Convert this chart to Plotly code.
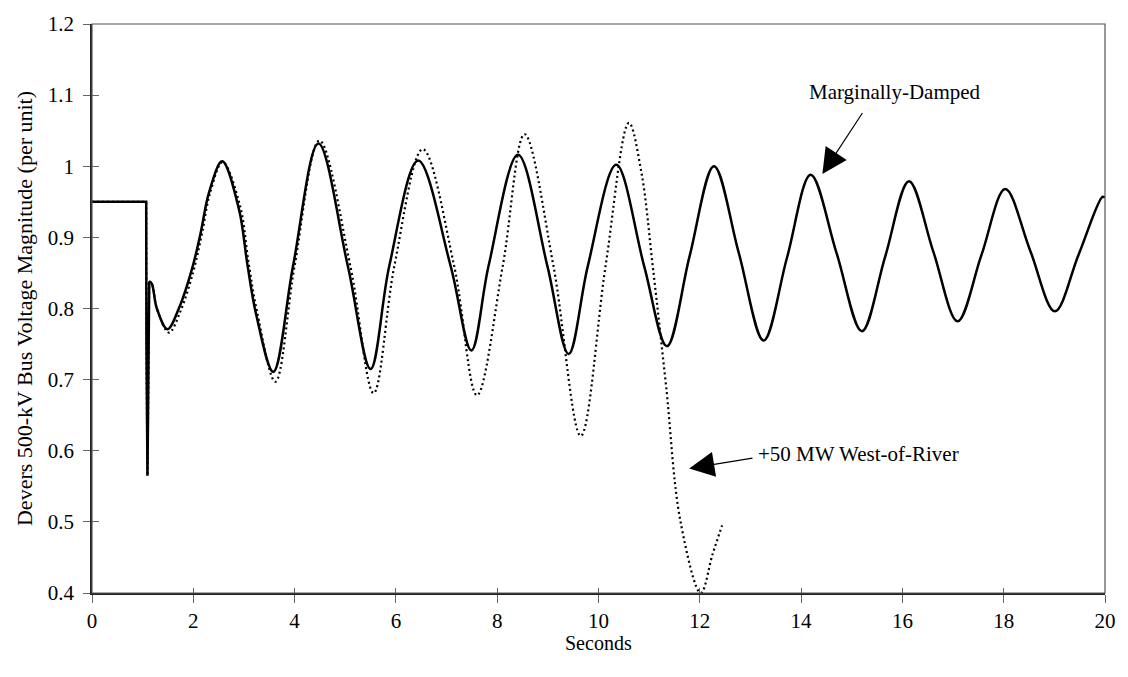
import plotly.graph_objects as go

# Time axis ticks (seconds) and voltage ticks (per unit)
x_ticks = [0, 2, 4, 6, 8, 10, 12, 14, 16, 18, 20]
y_ticks = [0.4, 0.5, 0.6, 0.7, 0.8, 0.9, 1.0, 1.1, 1.2]
y_tick_text = ["0.4", "0.5", "0.6", "0.7", "0.8", "0.9", "1", "1.1", "1.2"]

# Marginally-damped case: Devers 500-kV bus voltage (pu) vs time (s)
base_t = [0.0, 1.07, 1.075, 1.085, 1.095, 1.105, 1.115, 1.13,
          1.18, 1.28, 1.49, 1.72, 1.98, 2.15, 2.31, 2.57, 2.90, 3.07, 3.24,
          3.58, 3.97, 4.47, 5.05, 5.50, 5.87, 6.44, 7.08, 7.49, 7.83, 8.41,
          8.99, 9.41, 9.79, 10.35, 10.90, 11.35, 11.80, 12.28, 12.77, 13.26,
          13.72, 14.19, 14.70, 15.20, 15.66, 16.13, 16.61, 17.09, 17.56,
          18.03, 18.52, 19.01, 19.48, 19.95, 20.0]
base_v = [0.95, 0.95, 0.75, 0.58, 0.565, 0.64, 0.80, 0.838,
          0.835, 0.80, 0.771, 0.801, 0.857, 0.908, 0.963, 1.007, 0.94, 0.861, 0.792,
          0.711, 0.86, 1.032, 0.86, 0.715, 0.86, 1.008, 0.86, 0.741, 0.86, 1.016,
          0.86, 0.736, 0.86, 1.002, 0.86, 0.747, 0.874, 1.000, 0.878, 0.755,
          0.871, 0.988, 0.878, 0.768, 0.873, 0.979, 0.880, 0.782, 0.875,
          0.968, 0.882, 0.796, 0.876, 0.957, 0.956]

# +50 MW West-of-River case (unstable)
wor_t = [0.0, 1.07, 1.075, 1.085, 1.095, 1.105, 1.115, 1.13,
         1.18, 1.28, 1.52, 1.74, 2.00, 2.17, 2.33, 2.58, 2.92, 3.09, 3.26,
         3.62, 4.00, 4.49, 5.10, 5.56, 5.97, 6.53, 7.15, 7.60, 8.11, 8.54,
         9.11, 9.65, 10.14, 10.60, 10.85, 11.07, 11.33, 11.62, 12.02, 12.25,
         12.44]
wor_v = [0.95, 0.95, 0.75, 0.58, 0.565, 0.64, 0.80, 0.838,
         0.835, 0.80, 0.766, 0.795, 0.852, 0.905, 0.962, 1.006, 0.945, 0.865, 0.795,
         0.697, 0.86, 1.036, 0.86, 0.681, 0.86, 1.024, 0.86, 0.678, 0.86, 1.045,
         0.86, 0.621, 0.86, 1.061, 0.99, 0.86, 0.694, 0.50, 0.40, 0.454,
         0.495]

FAULT_END = 7  # index where the fault transient ends and smooth swings begin

fig = go.Figure()


def add_series(t, v, dash, width):
    # sharp fault step drawn with straight segments, swings smoothed
    fig.add_trace(go.Scatter(x=t[:FAULT_END + 1], y=v[:FAULT_END + 1], mode="lines",
                             line=dict(color="black", width=width, dash=dash)))
    fig.add_trace(go.Scatter(x=t[FAULT_END:], y=v[FAULT_END:], mode="lines",
                             line=dict(color="black", width=width, dash=dash,
                                       shape="spline", smoothing=1.0)))


add_series(wor_t, wor_v, "2px,3px", 2.2)
add_series(base_t, base_v, "solid", 2.5)

# invisible trace to hold the inner tick axes
fig.add_trace(go.Scatter(x=[0], y=[0.4], xaxis="x2", yaxis="y2", mode="markers",
                         marker=dict(opacity=0), hoverinfo="skip"))

serif = "Liberation Serif, Times New Roman, serif"
tick_font = dict(family=serif, size=21, color="black")

fig.update_layout(
    width=1128, height=677,
    margin=dict(l=92, r=17, t=16, b=84),
    paper_bgcolor="white", plot_bgcolor="white",
    showlegend=False,
    font=dict(family=serif, size=21, color="black"),
    xaxis=dict(range=[0, 20], tickvals=x_ticks, ticks="outside", ticklen=8,
               tickcolor="#666", tickwidth=1, showgrid=False, zeroline=False,
               showline=True, linecolor="#222", linewidth=1.5,
               tickfont=tick_font, ticklabelstandoff=0),
    yaxis=dict(range=[0.4, 1.2], tickvals=y_ticks, ticktext=y_tick_text,
               ticks="outside", ticklen=7, tickcolor="#666", tickwidth=1,
               showgrid=False, zeroline=False, showline=True, linecolor="#222",
               linewidth=1.5, tickfont=tick_font, ticklabelstandoff=5,
               title=dict(text="Devers 500-kV Bus Voltage Magnitude (per unit)",
                          font=dict(family=serif, size=22), standoff=9)),
    xaxis2=dict(range=[0, 20], overlaying="x", anchor="y", side="bottom",
                tickvals=x_ticks, ticks="inside", ticklen=5, tickcolor="#666",
                showticklabels=False, showgrid=False, zeroline=False, showline=False),
    yaxis2=dict(range=[0.4, 1.2], overlaying="y", anchor="x", side="left",
                tickvals=y_ticks, ticks="inside", ticklen=7, tickcolor="#666",
                showticklabels=False, showgrid=False, zeroline=False, showline=False),
    shapes=[dict(type="rect", xref="paper", yref="paper", x0=0, y0=0, x1=1, y1=1,
                 line=dict(color="#555", width=1.2), layer="above")],
    annotations=[
        dict(x=0.5, y=-0.088, xref="paper", yref="paper", text="Seconds",
             showarrow=False, yanchor="middle", font=dict(family=serif, size=20)),
        dict(x=15.85, y=1.104, text="Marginally-Damped", showarrow=False,
             font=dict(family=serif, size=21)),
        dict(x=14.42, y=0.989, ax=15.23, ay=1.077, axref="x", ayref="y",
             text="", showarrow=True, arrowhead=2, arrowsize=4.2, arrowwidth=1.2,
             arrowcolor="black"),
        dict(x=13.11, y=0.596, text="+50 MW West-of-River", showarrow=False,
             xanchor="left", font=dict(family=serif, size=21)),
        dict(x=11.79, y=0.575, ax=13.07, ay=0.590, axref="x", ayref="y",
             text="", showarrow=True, arrowhead=2, arrowsize=4.2, arrowwidth=1.2,
             arrowcolor="black"),
    ],
)

fig.write_html("out.html")
